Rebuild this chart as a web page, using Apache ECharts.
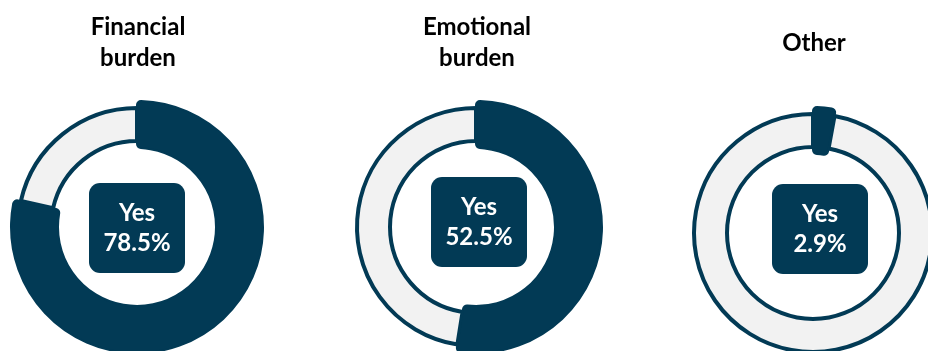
<!DOCTYPE html>
<html>
<head>
<meta charset="utf-8">
<title>Burden shares</title>
<script src="https://cdn.jsdelivr.net/npm/echarts@6/dist/echarts.min.js"></script>
<style>
  html, body { margin: 0; padding: 0; background: #ffffff; }
  #chart { width: 928px; height: 351px; }
</style>
</head>
<body>
<div id="chart"></div>
<script>
// Share of respondents answering "Yes" / "No" for each burden type (%)
const categories = ['Financial\nburden', 'Emotional\nburden', 'Other'];
const sliceNames = ['Yes', 'No'];
const yesShare = [78.5, 52.5, 2.9];
const noShare = [21.5, 47.5, 97.1];

const DARK = '#023a55';
const LIGHT = '#f2f2f2';
const FONT = 'Lato, "Open Sans", sans-serif';

// layout for each donut: centre and label nudge
const layout = [
  { center: [137, 227], titleY: 12, offset: [0, 1] },
  { center: [476, 227], titleY: 12, offset: [3, -5] },
  { center: [813, 233], titleY: 28, offset: [7, -4] }
];

const chart = echarts.init(document.getElementById('chart'), null, { renderer: 'canvas' });

const series = [];
const graphic = [];

categories.forEach((cat, i) => {
  const L = layout[i];
  // base ring: the "No" share, drawn as an outlined light band
  series.push({
    type: 'pie',
    silent: true,
    center: L.center,
    radius: [86, 119],
    startAngle: 90,
    clockwise: true,
    z: 2,
    label: { show: false },
    labelLine: { show: false },
    emphasis: { disabled: true },
    data: [
      { name: sliceNames[0], value: yesShare[i], itemStyle: { color: 'rgba(0,0,0,0)', borderWidth: 0 } },
      { name: sliceNames[1], value: noShare[i], itemStyle: { color: LIGHT, borderColor: DARK, borderWidth: 4 } }
    ]
  });
  // "Yes" share, thicker band on top with the centre value label
  series.push({
    type: 'pie',
    silent: true,
    center: L.center,
    radius: [79, 126],
    startAngle: 90,
    clockwise: true,
    z: 3,
    labelLine: { show: false },
    emphasis: { disabled: true },
    data: [
      {
        name: sliceNames[0],
        value: yesShare[i],
        itemStyle: { color: DARK, borderColor: DARK, borderWidth: 2, borderRadius: 4 },
        label: {
          show: true,
          position: 'center',
          offset: L.offset,
          formatter: p => p.name + '\n' + p.value.toFixed(1) + '%',
          color: '#ffffff',
          fontFamily: FONT,
          fontWeight: 'bold',
          fontSize: 24,
          lineHeight: 30,
          width: 96,
          align: 'center',
          padding: [15, 0],
          backgroundColor: DARK,
          borderRadius: 11
        }
      },
      { name: sliceNames[1], value: noShare[i], itemStyle: { color: 'rgba(0,0,0,0)', borderWidth: 0 }, label: { show: false } }
    ]
  });
  // category heading above each donut
  graphic.push({
    type: 'text',
    x: L.center[0] + 1,
    y: L.titleY,
    style: {
      text: cat,
      fill: '#000000',
      font: 'bold 24px ' + FONT,
      textAlign: 'center',
      textVerticalAlign: 'top',
      lineHeight: 31
    }
  });
});

chart.setOption({
  backgroundColor: '#ffffff',
  animation: false,
  graphic: graphic,
  series: series
});
</script>
</body>
</html>
